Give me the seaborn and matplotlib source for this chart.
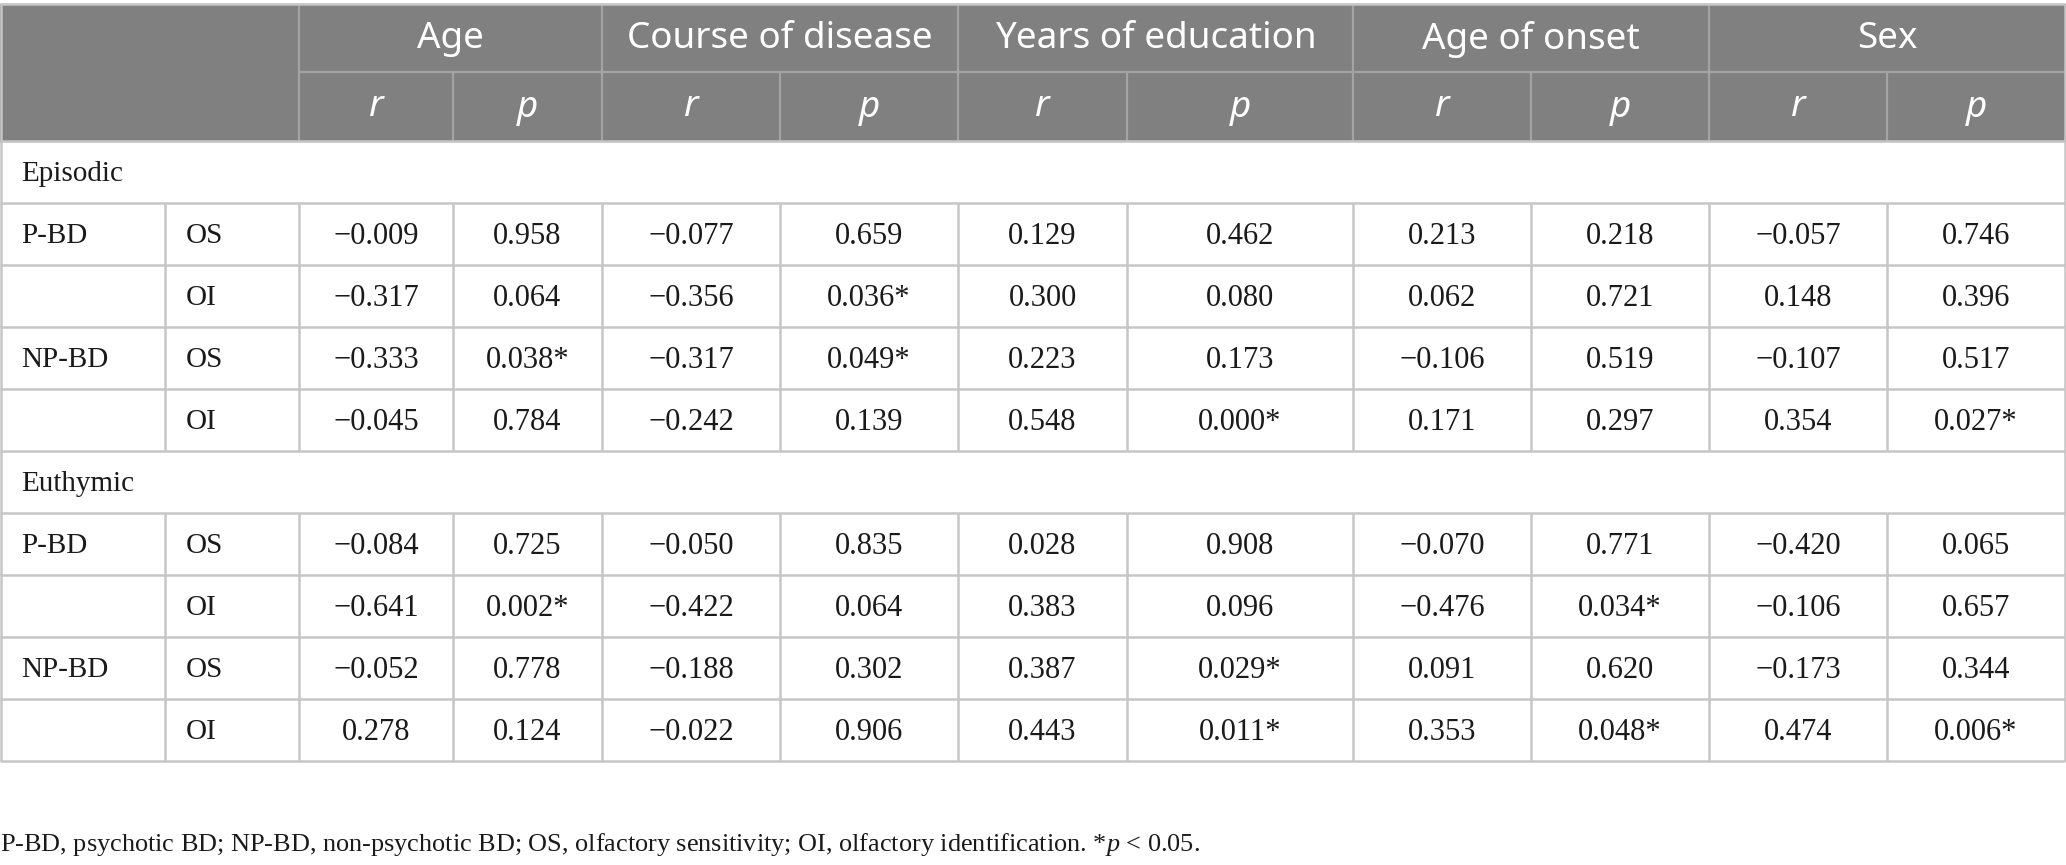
import numpy as np
import pandas as pd
import seaborn as sns
import matplotlib.pyplot as plt

# Datos de la tabla
variables = ["Age", "Course of disease", "Years of education", "Age of onset", "Sex"]
states = ["Episodic", "Euthymic"]
groups = ["P-BD", "NP-BD"]
measures = ["OS", "OI"]

# filas: P-BD OS, P-BD OI, NP-BD OS, NP-BD OI ; columnas: variables
episodic_r = [[-0.009, -0.077, 0.129, 0.213, -0.057],
              [-0.317, -0.356, 0.300, 0.062, 0.148],
              [-0.333, -0.317, 0.223, -0.106, -0.107],
              [-0.045, -0.242, 0.548, 0.171, 0.354]]
episodic_p = [[0.958, 0.659, 0.462, 0.218, 0.746],
              [0.064, 0.036, 0.080, 0.721, 0.396],
              [0.038, 0.049, 0.173, 0.519, 0.517],
              [0.784, 0.139, 0.000, 0.297, 0.027]]
euthymic_r = [[-0.084, -0.050, 0.028, -0.070, -0.420],
              [-0.641, -0.422, 0.383, -0.476, -0.106],
              [-0.052, -0.188, 0.387, 0.091, -0.173],
              [0.278, -0.022, 0.443, 0.353, 0.474]]
euthymic_p = [[0.725, 0.835, 0.908, 0.771, 0.065],
              [0.002, 0.064, 0.096, 0.034, 0.657],
              [0.778, 0.302, 0.029, 0.620, 0.344],
              [0.124, 0.906, 0.011, 0.048, 0.006]]

footnote = ("P-BD, psychotic BD; NP-BD, non-psychotic BD; OS, olfactory sensitivity; "
            "OI, olfactory identification. *$p$ < 0.05.")

# Estilo
sns.set_theme(style="white")
plt.rcParams['mathtext.fontset'] = 'custom'
plt.rcParams['mathtext.rm'] = 'Liberation Serif'
plt.rcParams['mathtext.it'] = 'Liberation Serif:italic'

header_bg = "#7f807f"
header_line = "#a3a3a3"
grid_col = "#c6c6c6"
txt_col = "#1a1a1a"
sans = "Noto Sans"
serif = "Liberation Serif"

# Geometría (en pixeles)
W, H = 2066, 865
col_edges = [0, 165, 299, 453, 602, 780, 958, 1127, 1353, 1531, 1709, 1887, 2065]
top, h1, h2 = 4, 72, 141
row_h = 62


def fmt_r(v):
    return f"{v:.3f}".replace("-", "\u2212")


def fmt_p(v):
    return f"{v:.3f}" + ("*" if v < 0.05 else "")


# Construir filas del cuerpo
rows = []
for state, r_tab, p_tab in [(states[0], episodic_r, episodic_p), (states[1], euthymic_r, euthymic_p)]:
    rows.append(("section", state, None))
    for i in range(4):
        g = groups[i // 2] if i % 2 == 0 else ""
        m = measures[i % 2]
        cells = []
        for j in range(len(variables)):
            cells += [fmt_r(r_tab[i][j]), fmt_p(p_tab[i][j])]
        rows.append(("data", (g, m), cells))

fig = plt.figure(figsize=(W / 100, H / 100), dpi=100)
ax = fig.add_axes([0, 0, 1, 1])
ax.set_xlim(0, W)
ax.set_ylim(H, 0)
ax.axis("off")

# Cabecera
ax.add_patch(plt.Rectangle((0, top), col_edges[-1], h2 - top, color=header_bg, zorder=1))
ax.hlines(h1, col_edges[2], col_edges[-1], color=header_line, lw=1.6, zorder=2)
for k, name in enumerate(variables):
    x0 = col_edges[2 + 2 * k]
    x1 = col_edges[4 + 2 * k]
    xm = col_edges[3 + 2 * k]
    ax.vlines(x0, top, h2, color=header_line, lw=1.6, zorder=2)
    ax.vlines(xm, h1, h2, color=header_line, lw=1.6, zorder=2)
    ax.text((x0 + x1) / 2, (top + h1) / 2 + 1, name, ha="center", va="center",
            color="white", fontsize=26.5, family=sans, zorder=3)
    ax.text((x0 + xm) / 2, (h1 + h2) / 2 + 1, "r", ha="center", va="center",
            color="white", fontsize=26.5, family=sans, style="italic", zorder=3)
    ax.text((xm + x1) / 2, (h1 + h2) / 2 + 1, "p", ha="center", va="center",
            color="white", fontsize=26.5, family=sans, style="italic", zorder=3)

# Cuerpo
for n, (kind, label, cells) in enumerate(rows):
    y0 = h2 + n * row_h
    y1 = y0 + row_h
    yc = (y0 + y1) / 2 + 2
    if kind == "section":
        ax.text(col_edges[0] + 21, yc, label, ha="left", va="center",
                fontsize=21, family=serif, color=txt_col)
        ax.vlines([col_edges[0] + 1, col_edges[-1]], y0, y1, color=grid_col, lw=1.8)
    else:
        g, m = label
        ax.text(col_edges[0] + 21, yc, g, ha="left", va="center",
                fontsize=21, family=serif, color=txt_col)
        ax.text(col_edges[1] + 21, yc, m, ha="left", va="center",
                fontsize=21, family=serif, color=txt_col)
        for c, txt in enumerate(cells):
            xc = (col_edges[2 + c] + col_edges[3 + c]) / 2
            ax.text(xc, yc, txt, ha="center", va="center",
                    fontsize=22, family=serif, color=txt_col)
        ax.vlines([col_edges[0] + 1] + col_edges[1:], y0, y1, color=grid_col, lw=1.8)
    ax.hlines(y1, col_edges[0], col_edges[-1], color=grid_col, lw=1.8)

# Bordes exteriores de la cabecera
ax.hlines(top, col_edges[0], col_edges[-1], color=grid_col, lw=1.8, zorder=4)
ax.hlines(h2, col_edges[0], col_edges[-1], color=grid_col, lw=1.8, zorder=4)
ax.vlines([col_edges[0] + 1, col_edges[-1]], top, h2, color=grid_col, lw=1.8, zorder=4)

# Nota al pie
ax.text(0, 844, footnote, ha="left", va="center", fontsize=18.9, family=serif, color=txt_col)

fig.savefig("out.png", dpi=100)
